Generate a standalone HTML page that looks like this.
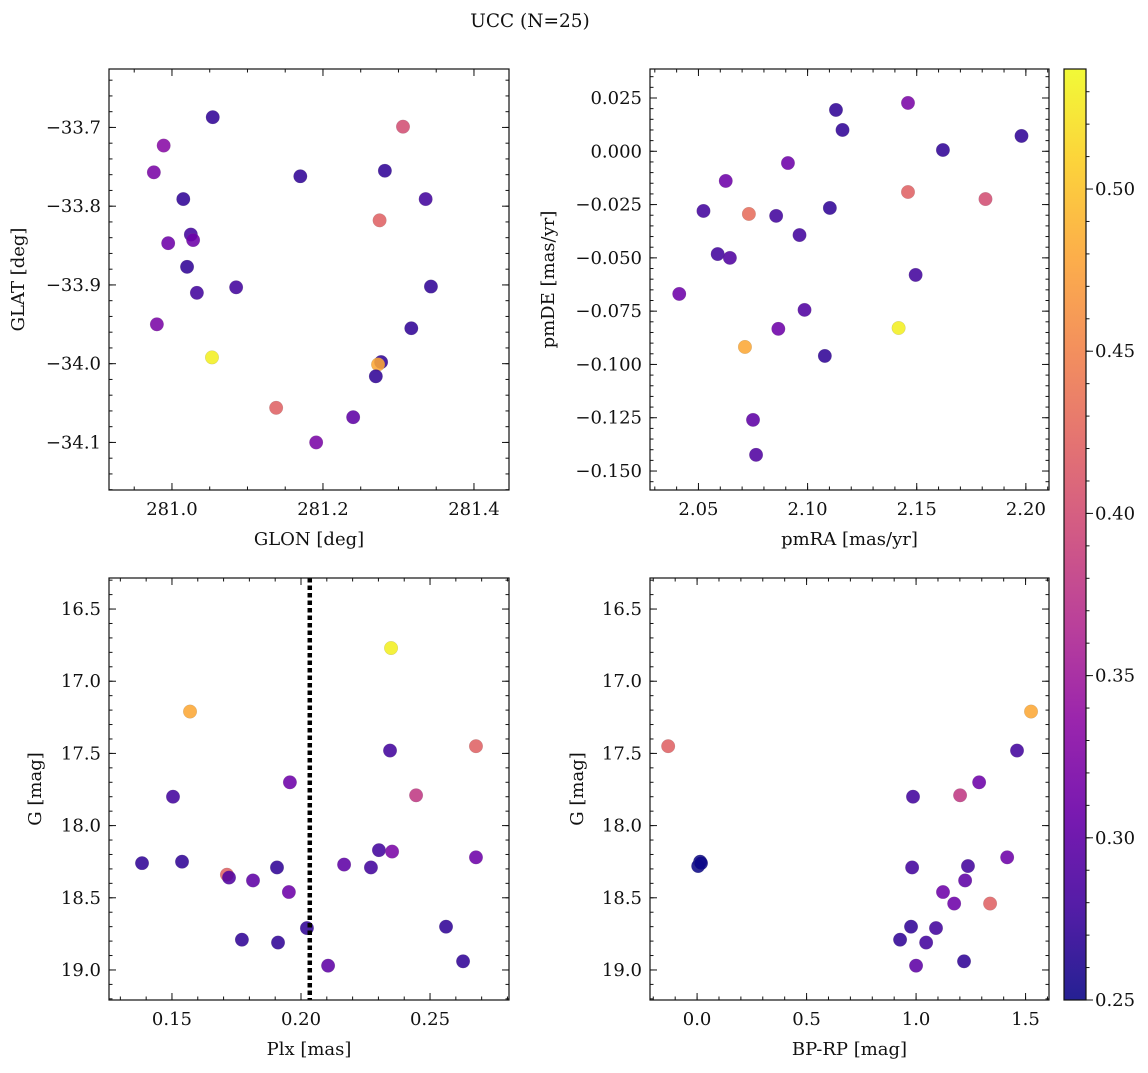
<!DOCTYPE html>
<html><head><meta charset="utf-8">
<style>
html,body{margin:0;padding:0;background:#fff;}
svg text{font-family:"DejaVu Serif","Liberation Serif",serif;fill:#111;}
</style></head>
<body>
<svg id="chart" width="1148" height="1068" viewBox="0 0 1148 1068" xmlns="http://www.w3.org/2000/svg">
<rect width="1148" height="1068" fill="#fff"/>
<text x="530" y="27" font-size="18.5" text-anchor="middle">UCC (N=25)</text>
</svg>
<script>
// ---- data ----
const glon = [281.054,281.306,280.989,280.976,281.170,281.282,281.015,281.336,281.275,281.025,280.995,281.028,281.020,281.033,281.085,281.343,280.980,281.317,281.053,281.277,281.273,281.270,281.138,281.240,281.191];
const glat = [-33.687,-33.699,-33.723,-33.757,-33.762,-33.755,-33.791,-33.791,-33.818,-33.836,-33.847,-33.843,-33.877,-33.910,-33.903,-33.902,-33.950,-33.955,-33.992,-33.998,-34.001,-34.016,-34.056,-34.068,-34.100];
const cTL = [0.27,0.40,0.33,0.32,0.27,0.27,0.27,0.28,0.42,0.28,0.31,0.31,0.27,0.28,0.28,0.27,0.32,0.27,0.53,0.27,0.48,0.27,0.42,0.30,0.32];

const pmra = [2.198,2.146,2.113,2.116,2.162,2.091,2.0625,2.146,2.1815,2.0523,2.0731,2.0856,2.1102,2.0963,2.0588,2.0644,2.1495,2.0412,2.0986,2.0866,2.1417,2.0713,2.1079,2.075,2.0764];
const pmde = [0.0072,0.0227,0.0194,0.010,0.0006,-0.0055,-0.0139,-0.0191,-0.0224,-0.028,-0.0294,-0.0303,-0.0266,-0.0393,-0.0482,-0.050,-0.058,-0.0669,-0.0744,-0.0833,-0.0829,-0.0918,-0.096,-0.126,-0.1424];
const cTR = [0.27,0.32,0.27,0.27,0.27,0.31,0.31,0.42,0.40,0.28,0.43,0.28,0.27,0.28,0.28,0.29,0.28,0.31,0.29,0.31,0.53,0.48,0.27,0.30,0.29];

const plx = [0.2349,0.157,0.2345,0.2678,0.1504,0.1957,0.2446,0.2302,0.2353,0.2678,0.1384,0.1539,0.1907,0.2167,0.2271,0.1953,0.1814,0.1713,0.1721,0.2562,0.2023,0.1771,0.1911,0.2105,0.2628];
const gBL = [16.77,17.21,17.48,17.45,17.80,17.70,17.79,18.17,18.18,18.22,18.26,18.25,18.29,18.27,18.29,18.46,18.38,18.34,18.36,18.70,18.71,18.79,18.81,18.97,18.94];
const cBL = [0.53,0.48,0.28,0.42,0.28,0.31,0.38,0.28,0.32,0.31,0.27,0.27,0.27,0.30,0.28,0.31,0.30,0.42,0.29,0.27,0.27,0.27,0.27,0.30,0.27];
const plxLine = 0.2034;

const bprp = [1.525,-0.132,1.461,1.288,0.986,1.201,0.014,0.005,0.018,1.416,1.237,0.982,1.224,1.123,1.174,1.338,0.977,1.091,0.927,1.046,1.0,1.219];
const gBR = [17.21,17.45,17.48,17.70,17.80,17.79,18.25,18.28,18.26,18.22,18.28,18.29,18.38,18.46,18.54,18.54,18.70,18.71,18.79,18.81,18.97,18.94];
const cBR = [0.48,0.42,0.28,0.31,0.28,0.38,0.25,0.25,0.25,0.31,0.28,0.28,0.30,0.31,0.31,0.42,0.27,0.28,0.27,0.28,0.30,0.27];

const cbTicks = [0.25,0.30,0.35,0.40,0.45,0.50];
const cMin = 0.25, cMax = 0.537;

// ---- rendering ----
const NS = "http://www.w3.org/2000/svg";
const svg = document.getElementById('chart');
const FS = 18;
function mk(tag, attrs, parent){const e=document.createElementNS(NS,tag);for(const k in attrs)e.setAttribute(k,attrs[k]);(parent||svg).appendChild(e);return e;}
const stops=[[13,8,135],[65,4,157],[106,0,168],[143,13,164],[177,42,144],[204,71,120],[225,100,98],[242,132,75],[252,166,54],[252,206,37],[240,249,33]];
function plasma(t){t=Math.max(0,Math.min(1,t));const f=t*10,i=Math.min(9,Math.floor(f)),r=f-i;const a=stops[i],b=stops[i+1];return `rgb(${Math.round(a[0]+(b[0]-a[0])*r)},${Math.round(a[1]+(b[1]-a[1])*r)},${Math.round(a[2]+(b[2]-a[2])*r)})`;}
function cmap(v){return plasma((v-cMin)/(cMax-cMin));}
function fmt(v,d){const s=Math.abs(v).toFixed(d);return (v<-1e-9?'\u2212':'')+s;}

function panel(o){
  const {name,x0,x1,y0,y1,xd,yd,xs,ys,cs,xMaj,xMin,yMaj,yMin,xdec,ydec,xlab,ylab}=o;
  const g=mk('g',{});
  
  
  const X=v=>x0+(v-xd[0])/(xd[1]-xd[0])*(x1-x0);
  const Y=v=>y0+(v-yd[0])/(yd[1]-yd[0])*(y1-y0);
  const tg=mk('g',{stroke:'#111','stroke-width':1},g);
  function xt(v,len){const x=X(v);if(x<x0-0.5||x>x1+0.5)return;mk('line',{x1:x,x2:x,y1:y1,y2:y1-len},tg);mk('line',{x1:x,x2:x,y1:y0,y2:y0+len},tg);}
  function yt(v,len){const y=Y(v);if(y<Math.min(y0,y1)-0.5||y>Math.max(y0,y1)+0.5)return;mk('line',{x1:x0,x2:x0+len,y1:y,y2:y},tg);mk('line',{x1:x1,x2:x1-len,y1:y,y2:y},tg);}
  const lo=Math.min(xd[0],xd[1]),hi=Math.max(xd[0],xd[1]);
  for(let v=Math.ceil(lo/xMin)*xMin;v<=hi;v+=xMin)xt(v,3.5);
  const ylo=Math.min(yd[0],yd[1]),yhi=Math.max(yd[0],yd[1]);
  for(let v=Math.ceil(ylo/yMin)*yMin;v<=yhi;v+=yMin)yt(v,3.5);
  xMaj.forEach(v=>{xt(v,7);const t=mk('text',{x:X(v),y:y1+25,'font-size':FS,'text-anchor':'middle'},g);t.textContent=fmt(v,xdec);});
  yMaj.forEach(v=>{yt(v,7);const t=mk('text',{x:x0-8,y:Y(v)+6,'font-size':FS,'text-anchor':'end'},g);t.textContent=fmt(v,ydec);});
  const pg=mk('g',{},g);
  for(let i=0;i<xs.length;i++){
    const c=mk('circle',{cx:X(xs[i]),cy:Y(ys[i]),r:6.8,fill:cmap(cs[i]),'fill-opacity':0.88,stroke:'#777','stroke-width':0.3,'stroke-opacity':0.5},pg);
    
    
  }
  if(o.vline!==undefined){const l=mk('line',{x1:X(o.vline),x2:X(o.vline),y1:y0,y2:y1,stroke:'#000','stroke-width':4.5,'stroke-dasharray':'4.5 3'},g);}
  const fr=mk('rect',{x:x0,y:y0,width:x1-x0,height:y1-y0,fill:'none',stroke:'#111','stroke-width':1.2},g);
  
  const xl=mk('text',{x:(x0+x1)/2,y:y1+55,'font-size':FS,'text-anchor':'middle'},g);xl.textContent=xlab;
  
  const cy=(y0+y1)/2, lx=o.ylx;
  const yl=mk('text',{x:lx,y:cy,'font-size':FS,'text-anchor':'middle',transform:`rotate(-90 ${lx} ${cy})`},g);yl.textContent=ylab;
  
}

panel({name:'glon-glat-panel',x0:109,x1:509,y0:69,y1:490,xd:[280.9166,281.4464],yd:[-33.6258,-34.1604],xs:glon,ys:glat,cs:cTL,
  xMaj:[281.0,281.2,281.4],xMin:0.05,yMaj:[-33.7,-33.8,-33.9,-34.0,-34.1],yMin:0.02,xdec:1,ydec:1,xlab:'GLON [deg]',ylab:'GLAT [deg]',ylx:24});
panel({name:'pm-panel',x0:650,x1:1049,y0:69,y1:490,xd:[2.0278,2.2106],yd:[0.0386,-0.1589],xs:pmra,ys:pmde,cs:cTR,
  xMaj:[2.05,2.10,2.15,2.20],xMin:0.01,yMaj:[0.025,0,-0.025,-0.05,-0.075,-0.1,-0.125,-0.15],yMin:0.005,xdec:2,ydec:3,xlab:'pmRA [mas/yr]',ylab:'pmDE [mas/yr]',ylx:554});
panel({name:'plx-g-panel',x0:109,x1:509,y0:578,y1:1000,xd:[0.1256,0.2806],yd:[16.285,19.208],xs:plx,ys:gBL,cs:cBL,vline:plxLine,
  xMaj:[0.15,0.20,0.25],xMin:0.01,yMaj:[16.5,17,17.5,18,18.5,19],yMin:0.1,xdec:2,ydec:1,xlab:'Plx [mas]',ylab:'G [mag]',ylx:41});
panel({name:'cmd-panel',x0:650,x1:1049,y0:578,y1:1000,xd:[-0.215,1.607],yd:[16.285,19.208],xs:bprp,ys:gBR,cs:cBR,
  xMaj:[0,0.5,1.0,1.5],xMin:0.1,yMaj:[16.5,17,17.5,18,18.5,19],yMin:0.1,xdec:1,ydec:1,xlab:'BP-RP [mag]',ylab:'G [mag]',ylx:583});

const cb=mk('g',{});


const defs=mk('defs',{},cb);
const lg=mk('linearGradient',{id:'pl',x1:0,y1:1,x2:0,y2:0},defs);
for(let i=0;i<=10;i++)mk('stop',{offset:i/10,'stop-color':plasma(i/10),'stop-opacity':0.9},lg);
const cbx0=1064,cbx1=1086,cby0=69,cby1=1000;
mk('rect',{x:cbx0,y:cby0,width:cbx1-cbx0,height:cby1-cby0,fill:'url(#pl)',stroke:'#111','stroke-width':1.2},cb);
const CY=v=>cby1-(v-cMin)/(cMax-cMin)*(cby1-cby0);
for(let v=0.25;v<=cMax;v+=0.01){mk('line',{x1:cbx1,x2:cbx1+3.5,y1:CY(v),y2:CY(v),stroke:'#111'},cb);}
cbTicks.forEach(v=>{mk('line',{x1:cbx1,x2:cbx1+7,y1:CY(v),y2:CY(v),stroke:'#111'},cb);const t=mk('text',{x:cbx1+9,y:CY(v)+6,'font-size':FS},cb);t.textContent=v.toFixed(2);});
</script>
</body></html>
